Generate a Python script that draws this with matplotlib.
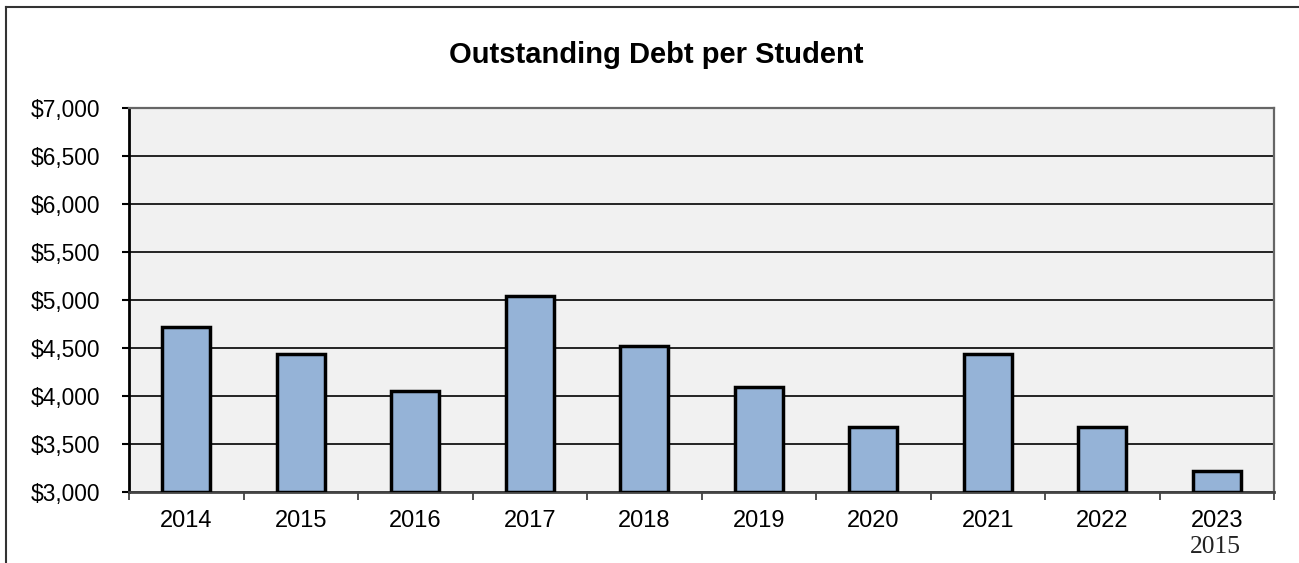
import matplotlib.pyplot as plt
from matplotlib.lines import Line2D
from matplotlib.ticker import FuncFormatter, FixedLocator

years = ["2014", "2015", "2016", "2017", "2018", "2019", "2020", "2021", "2022", "2023"]
debt = [4720, 4440, 4050, 5040, 4520, 4090, 3680, 4440, 3680, 3220]
y_ticks = [3000, 3500, 4000, 4500, 5000, 5500, 6000, 6500, 7000]

plt.rcParams["font.family"] = ["Liberation Sans", "DejaVu Sans"]

fig = plt.figure(figsize=(12.99, 5.63), dpi=100)
ax = fig.add_axes([129 / 1299, 1 - 492 / 563, (1274 - 129) / 1299, (492 - 108) / 563])
ax.set_facecolor("#f1f1f1")

x = list(range(len(years)))
ax.bar(x, [v - 3000 for v in debt], bottom=3000, width=0.42,
       color="#95b3d7", edgecolor="black", linewidth=2.5, zorder=3)

ax.set_xlim(-0.5, len(years) - 0.5)
ax.set_ylim(3000, 7000)
ax.set_yticks(y_ticks)
ax.yaxis.set_major_formatter(FuncFormatter(lambda v, _: f"${v:,.0f}"))
ax.grid(axis="y", color="black", linewidth=1.2, zorder=1)
ax.set_axisbelow(True)

ax.set_xticks(x)
ax.set_xticklabels(years)
ax.xaxis.set_minor_locator(FixedLocator([i + 0.5 for i in range(-1, len(years))]))
ax.tick_params(axis="x", which="major", length=0, labelsize=17, pad=13)
ax.tick_params(axis="x", which="minor", length=6, width=1.2, color="#333333")
ax.tick_params(axis="y", length=5, width=1.5, labelsize=16.4, pad=16)

ax.spines["left"].set_linewidth(2)
ax.spines["left"].set_color("black")
ax.spines["bottom"].set_linewidth(2)
ax.spines["bottom"].set_color("#444444")
for side in ("top", "right"):
    ax.spines[side].set_linewidth(1.6)
    ax.spines[side].set_color("#666666")

fig.text(656 / 1299, 1 - 55 / 563, "Outstanding Debt per Student", ha="center", va="center",
         fontsize=21, fontweight="bold")
fig.text(1215 / 1299, 1 - 547 / 563, "2015", ha="center", va="center",
         fontsize=18.4, family=["Liberation Serif", "DejaVu Serif"], color="#222222")

# outer chart frame (cut off on the right and bottom)
fig.add_artist(Line2D([6 / 1299, 6 / 1299], [0, 1 - 7 / 563], transform=fig.transFigure,
                      color="#333333", linewidth=1.5))
fig.add_artist(Line2D([6 / 1299, 1], [1 - 7 / 563, 1 - 7 / 563], transform=fig.transFigure,
                      color="#333333", linewidth=1.5))

fig.savefig("out.png", dpi=100)
